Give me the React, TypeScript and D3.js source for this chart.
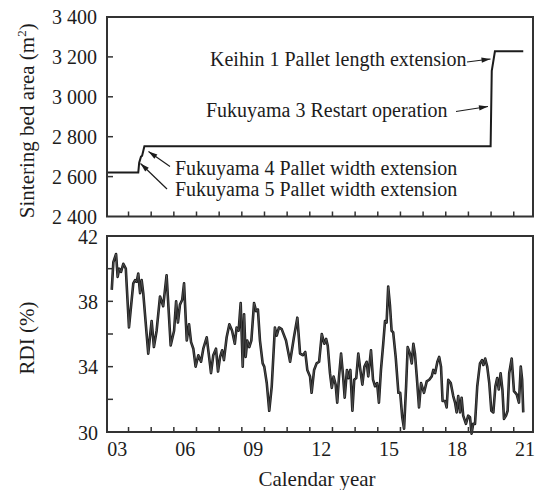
import React from 'react';
import * as d3 from 'd3';

// ---------- data ----------
const xTickYears = [2004, 2005, 2006, 2007, 2008, 2009, 2010, 2011, 2012, 2013, 2014, 2015, 2016, 2017, 2018, 2019, 2020, 2021];
const xLabelYears = [2003, 2006, 2009, 2012, 2015, 2018, 2021];
const xLabels = ['03', '06', '09', '12', '15', '18', '21'];

const areaTicks = [2600, 2800, 3000, 3200];
const areaLabelValues = [2400, 2600, 2800, 3000, 3200, 3400];
const areaLabels = ['2 400', '2 600', '2 800', '3 000', '3 200', '3 400'];

const rdiTicks = [32, 34, 36, 38, 40];
const rdiLabelValues = [30, 34, 38, 42];
const rdiLabels = ['30', '34', '38', '42'];

// Sintering bed area (m2) step series
const areaYears = [2003.06, 2004.43, 2004.47, 2004.55, 2004.6, 2004.7, 2019.98, 2020.03, 2020.17, 2021.42];
const areaValues = [2620, 2620, 2670, 2700, 2705, 2752, 2752, 3130, 3228, 3228];

// RDI (%)
const rdiYears = [
  2003.26, 2003.33, 2003.45, 2003.52, 2003.59, 2003.67, 2003.77, 2003.88, 2004.02, 2004.21,
  2004.29, 2004.36, 2004.43, 2004.51, 2004.58, 2004.65, 2004.87, 2005.02, 2005.12, 2005.24,
  2005.39, 2005.53, 2005.68, 2005.86, 2006.01, 2006.10, 2006.18, 2006.27, 2006.37, 2006.45,
  2006.57, 2006.67, 2006.76, 2006.86, 2006.96, 2007.08, 2007.20, 2007.30, 2007.45, 2007.60,
  2007.64, 2007.74, 2007.86, 2007.95, 2008.04, 2008.13, 2008.21, 2008.33, 2008.45, 2008.57,
  2008.69, 2008.77, 2008.86, 2008.95, 2009.04, 2009.10, 2009.17, 2009.24, 2009.33, 2009.42,
  2009.54, 2009.63, 2009.71, 2009.80, 2009.92, 2009.99, 2010.10, 2010.21, 2010.32, 2010.46,
  2010.54, 2010.64, 2010.76, 2010.95, 2011.13, 2011.30, 2011.45, 2011.57, 2011.69, 2011.80,
  2011.89, 2012.01, 2012.08, 2012.19, 2012.30, 2012.41, 2012.53, 2012.64, 2012.72, 2012.79,
  2012.89, 2012.97, 2013.05, 2013.14, 2013.21, 2013.29, 2013.38, 2013.47, 2013.54, 2013.64,
  2013.70, 2013.79, 2013.88, 2013.96, 2014.05, 2014.14, 2014.23, 2014.32, 2014.41, 2014.51,
  2014.58, 2014.70, 2014.79, 2014.88, 2014.97, 2015.05, 2015.14, 2015.24, 2015.32, 2015.39,
  2015.46, 2015.54, 2015.61, 2015.68, 2015.79, 2015.91, 2015.99, 2016.08, 2016.16, 2016.25,
  2016.32, 2016.42, 2016.50, 2016.57, 2016.64, 2016.72, 2016.82, 2016.91, 2017.04, 2017.16,
  2017.27, 2017.38, 2017.45, 2017.53, 2017.63, 2017.71, 2017.79, 2017.86, 2017.97, 2018.04,
  2018.11, 2018.22, 2018.33, 2018.41, 2018.48, 2018.55, 2018.63, 2018.70, 2018.77, 2018.89,
  2018.99, 2019.07, 2019.14, 2019.21, 2019.29, 2019.39, 2019.51, 2019.60, 2019.66, 2019.74,
  2019.83, 2019.92, 2020.01, 2020.10, 2020.19, 2020.27, 2020.34, 2020.42, 2020.50, 2020.57,
  2020.66, 2020.73, 2020.80, 2020.91, 2021.01, 2021.13, 2021.23, 2021.31, 2021.37, 2021.42,
];
const rdiValues = [
  38.7, 40.4, 40.9, 39.5, 40.0, 39.8, 40.3, 40.0, 36.4, 39.1,
  39.3, 39.2, 39.7, 38.5, 39.3, 38.5, 34.8, 36.8, 35.2, 36.2,
  38.3, 37.7, 39.6, 35.3, 36.2, 38.0, 36.7, 37.8, 38.1, 39.1,
  35.6, 36.6, 35.5, 35.1, 34.0, 34.7, 34.3, 35.1, 35.8, 34.1,
  33.6, 34.7, 35.1, 33.7, 34.6, 35.0, 34.4, 35.8, 36.6, 36.2,
  35.4, 36.4, 36.2, 37.9, 34.0, 37.2, 34.6, 35.6, 35.2, 35.6,
  37.9, 37.4, 37.5, 35.6, 34.2, 34.0, 33.0, 31.3, 32.8, 36.4,
  35.9, 36.4, 36.3, 35.6, 34.3, 35.8, 37.0, 34.8, 34.7, 34.9,
  33.8, 33.4, 32.4, 33.8, 34.2, 34.3, 36.0, 35.4, 35.7, 35.3,
  33.6, 32.7, 33.4, 32.9, 31.8, 33.4, 34.8, 33.4, 32.1, 33.8,
  33.3, 33.8, 31.3, 33.2, 33.3, 34.8, 33.8, 32.9, 34.0, 34.3,
  33.4, 35.0, 33.2, 32.8, 33.0, 31.8, 33.8, 35.4, 36.8, 36.7,
  38.9, 37.7, 36.2, 36.1, 34.6, 32.4, 32.4, 30.9, 30.2, 32.8,
  35.2, 34.8, 34.2, 35.4, 34.8, 33.4, 31.5, 33.0, 32.4, 33.1,
  33.2, 33.4, 33.8, 33.6, 34.3, 34.6, 34.0, 31.9, 31.9, 31.5,
  33.2, 33.0, 32.2, 31.8, 31.2, 32.2, 31.2, 32.1, 31.0, 30.5,
  31.0, 30.9, 29.9, 30.5, 30.5, 32.8, 34.2, 34.4, 34.1, 34.5,
  34.0, 33.0, 31.3, 31.2, 32.8, 33.3, 32.6, 33.6, 32.6, 30.8,
  31.0, 31.3, 33.6, 34.5, 32.5, 32.3, 31.8, 34.0, 33.2, 31.2,
];

// ---------- layout ----------
const W = 538;
const H = 490;
const LEFT = 107;
const RIGHT = 533;
const TOP1 = 17;
const BOT1 = 216.5;
const TOP2 = 236;
const BOT2 = 432;
const FONT = "'Liberation Serif', Tinos, 'Times New Roman', 'DejaVu Serif', serif";
const INK = '#1c1c1c';
const FRAME = '#333';

export default function App() {
  const x = d3.scaleLinear().domain([2003.05, 2021.85]).range([LEFT, RIGHT]);
  const yA = d3.scaleLinear().domain([2400, 3400]).range([BOT1, TOP1]);
  const yR = d3.scaleLinear().domain([30, 42]).range([BOT2, TOP2]);

  const areaLine = d3
    .line<number>()
    .x((_, i) => x(areaYears[i]))
    .y((d) => yA(d));
  const rdiLine = d3
    .line<number>()
    .x((_, i) => x(rdiYears[i]))
    .y((d) => yR(d))
    .curve(d3.curveLinear);

  const tickLen = 5;

  const arrows = [
    { x1: 467, y1: 62, x2: 490.5, y2: 59 },
    { x1: 456, y1: 111.5, x2: 488, y2: 106.5 },
    { x1: 170, y1: 166.5, x2: 148.5, y2: 151.5 },
    { x1: 167, y1: 189, x2: 140.5, y2: 163.5 },
  ];
  const notes = [
    { text: 'Keihin 1 Pallet length extension', x: 210, y: 66 },
    { text: 'Fukuyama 3 Restart operation', x: 206, y: 117 },
    { text: 'Fukuyama 4 Pallet width extension', x: 175, y: 175 },
    { text: 'Fukuyama 5 Pallet width extension', x: 175, y: 196 },
  ];

  const arrowHead = (a: { x1: number; y1: number; x2: number; y2: number }) => {
    const ang = Math.atan2(a.y2 - a.y1, a.x2 - a.x1);
    const len = 9;
    const half = 2.6;
    const bx = a.x2 - len * Math.cos(ang);
    const by = a.y2 - len * Math.sin(ang);
    const px = -Math.sin(ang) * half;
    const py = Math.cos(ang) * half;
    return `M${a.x2},${a.y2}L${bx + px},${by + py}L${bx - px},${by - py}Z`;
  };

  const textStyle = { fontFamily: FONT };

  return (
    <svg
      width={W}
      height={H}
      style={{ position: 'absolute', left: 0, top: 0, background: '#fff', fontFamily: FONT }}
    >
      <rect x={0} y={0} width={W} height={H} fill="#fff" />

      {/* ---------- top panel ---------- */}
      <g style={textStyle}>
        {xTickYears.map((yr) => (
          <line key={'tx1' + yr} x1={x(yr)} x2={x(yr)} y1={BOT1} y2={BOT1 - tickLen} stroke={FRAME} strokeWidth={1.5} />
        ))}
        {areaTicks.map((v) => (
          <line key={'ta' + v} x1={LEFT} x2={LEFT + 6} y1={yA(v)} y2={yA(v)} stroke={FRAME} strokeWidth={1.5} />
        ))}
        {areaLabelValues.map((v, i) => (
          <text key={'la' + v} x={97} y={yA(v)} dy="0.35em" textAnchor="end" fontSize={20} fill={INK} style={textStyle}>
            {areaLabels[i]}
          </text>
        ))}
        <path d={areaLine(areaValues) || ''} fill="none" stroke={INK} strokeWidth={2} strokeLinejoin="miter" />
        <rect x={LEFT} y={TOP1} width={RIGHT - LEFT} height={BOT1 - TOP1} fill="none" stroke={FRAME} strokeWidth={2} />
        <text
          transform={`translate(34,${(TOP1 + BOT1) / 2 + 4}) rotate(-90)`}
          textAnchor="middle"
          fontSize={21}
          fill={INK}
          style={textStyle}
        >
          Sintering bed area (m
          <tspan dy={-8} fontSize={13}>2</tspan>
          <tspan dy={8}>)</tspan>
        </text>
        {notes.map((n) => (
          <text key={n.text} x={n.x} y={n.y} fontSize={20} fill={INK} style={textStyle}>
            {n.text}
          </text>
        ))}
        {arrows.map((a, i) => (
          <g key={'ar' + i}>
            <line x1={a.x1} y1={a.y1} x2={a.x2} y2={a.y2} stroke={INK} strokeWidth={1.2} />
            <path d={arrowHead(a)} fill={INK} />
          </g>
        ))}
      </g>

      {/* ---------- bottom panel ---------- */}
      <g style={textStyle}>
        {xTickYears.map((yr) => (
          <line key={'tx2' + yr} x1={x(yr)} x2={x(yr)} y1={BOT2} y2={BOT2 - tickLen} stroke={FRAME} strokeWidth={1.5} />
        ))}
        {rdiTicks.map((v) => (
          <line key={'tr' + v} x1={LEFT} x2={LEFT + 6} y1={yR(v)} y2={yR(v)} stroke={FRAME} strokeWidth={1.5} />
        ))}
        {rdiLabelValues.map((v, i) => (
          <text key={'lr' + v} x={98} y={yR(v)} dy="0.38em" textAnchor="end" fontSize={20} fill={INK} style={textStyle}>
            {rdiLabels[i]}
          </text>
        ))}
        <path d={rdiLine(rdiValues) || ''} fill="none" stroke={INK} strokeWidth={2.6} strokeLinejoin="round" />
        <path d={rdiLine(rdiValues) || ''} fill="none" stroke="#777" strokeWidth={0.5} strokeLinejoin="round" />
        <rect x={LEFT} y={TOP2} width={RIGHT - LEFT} height={BOT2 - TOP2} fill="none" stroke={FRAME} strokeWidth={2} />
        <text
          transform={`translate(34,${(TOP2 + BOT2) / 2 + 4}) rotate(-90)`}
          textAnchor="middle"
          fontSize={21}
          fill={INK}
          style={textStyle}
        >
          RDI (%)
        </text>
        {xLabelYears.map((yr, i) => (
          <text key={'lx' + yr} x={x(yr + 0.5)} y={456} textAnchor="middle" fontSize={20} fill={INK} style={textStyle}>
            {xLabels[i]}
          </text>
        ))}
        <text x={(LEFT + RIGHT) / 2 - 3} y={486} textAnchor="middle" fontSize={21} fill={INK} style={textStyle}>
          Calendar year
        </text>
      </g>
    </svg>
  );
}
